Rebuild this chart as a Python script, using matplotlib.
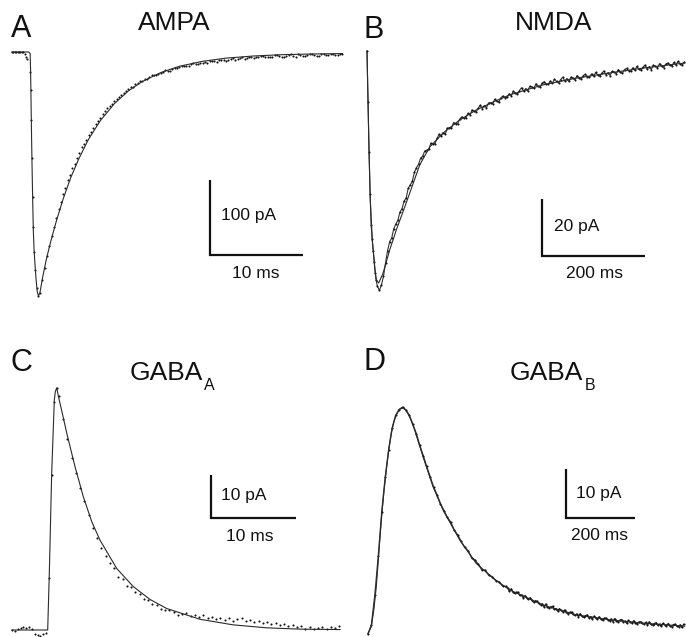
import numpy as np
import matplotlib.pyplot as plt

FIG_W, FIG_H = 686, 637
INK = "#111111"
FIT = "#2a2a2a"
FONT = "Liberation Sans"

# ---------------- AMPA (ms, pA) ----------------
ampa_fit_t = [0, 1.8, 1.95, 2.0, 2.04, 2.1, 2.15, 2.22, 2.29, 2.38, 2.47, 2.6,
              2.72, 2.85, 3.0, 3.3, 3.7, 4.2, 4.8, 5.5, 6.3, 7.2, 8.2, 9.5, 11,
              12.5, 14, 16, 18, 20.5, 23, 26, 29, 32, 35.6]
ampa_fit_i = [0, 0, -2, -25, -60, -110, -148, -195, -237, -265, -283, -305,
              -320, -325, -321, -300, -276, -251, -224, -196, -168, -142, -117,
              -91.5, -69, -52, -39.5, -27.4, -19, -12.4, -8.2, -5.3, -3.6, -2.7,
              -2.1]
ampa_pre_t = [0, 0.15, 0.3, 0.45, 0.6, 0.75, 0.9, 1.05, 1.2, 1.35, 1.5, 1.65,
              1.97, 2.0, 2.03, 2.13, 2.22, 2.28, 2.34, 2.47, 2.66, 2.83]
ampa_pre_i = [0, 0, 0.5, 0, -0.5, 0, 0, -0.5, 0, -3, -6, -9,
              -27, -51, -91, -141, -193, -233, -267, -291, -315, -325]
# decay samples, two interleaved sweeps of 0.5 ms spacing
ampa_decay_start, ampa_decay_step = 3.0, 0.5
ampa_decay_i = [-321, -288, -259, -233, -210, -190, -171, -155, -141, -127,
                -117, -106, -96, -88, -78, -72, -65, -60, -54, -49, -46, -41,
                -38, -36, -31, -31, -28, -24, -25, -21, -20, -18, -19, -15,
                -16, -14, -15, -12, -13, -11, -12, -9, -10, -8, -9, -6, -8, -7,
                -5, -7, -6, -4, -6, -5, -3, -6, -4, -5, -2, -4, -5, -3, -4, -2,
                -4, -3]
ampa_decay2_start = 3.25
ampa_decay2_i = [-304, -272, -246, -222, -200, -181, -164, -149, -134, -122,
                 -111, -101, -92, -83, -75, -69, -62, -57, -52, -46, -43, -39,
                 -36, -33, -30, -29, -27, -25, -22, -21, -19, -18, -16, -16,
                 -15, -13, -12, -12, -11, -10, -10, -8, -9, -7, -8, -6, -7, -5,
                 -6, -6, -4, -5, -6, -4, -5, -3, -5, -4, -3, -5, -3, -4, -2,
                 -4, -3]

# ---------------- NMDA (ms, pA) ----------------
nmda_fit_t = [0, 1.9, 3.9, 6.4, 10.3, 15, 18, 22.7, 31.1, 44.1, 56.9, 69.9,
              82.9, 102.3, 121.7, 147.6, 180, 212, 244.7, 277, 341.7, 406.4,
              471, 536, 617]
nmda_fit_i = [0, -17.2, -34.7, -52.3, -66.3, -75.8, -80.4, -81.4, -78.0, -69.8,
              -62.8, -56.4, -49.9, -40.0, -33.7, -28.8, -24.2, -20.7, -17.9,
              -15.4, -11.9, -9.5, -7.7, -6.0, -4.2]
nmda_pre_t = [0, 2, 4, 6, 8, 10, 12, 14, 16, 18, 20]
nmda_pre_i = [0, -18, -35.5, -50, -61, -66, -70, -74, -78, -80.5, -82.5]
nmda_decay_start, nmda_decay_step = 24, 4
nmda_decay_i = [
    -84.0, -82.1, -79.1, -74.3, -70.0, -66.9, -65.6, -62.4, -60.7, -59.4,
    -56.5, -55.3, -52.7, -51.6, -48.2, -47.0, -45.7, -42.6, -40.9, -39.8,
    -37.6, -36.9, -35.1, -34.8, -34.5, -32.4, -32.6, -32.5, -30.7, -29.2,
    -29.9, -28.6, -29.1, -27.1, -26.9, -27.1, -25.1, -25.6, -25.5, -23.9,
    -23.1, -23.6, -23.4, -21.9, -22.4, -20.7, -21.2, -21.4, -20.0, -19.0,
    -20.2, -19.2, -19.9, -18.2, -18.2, -18.6, -16.9, -17.7, -17.9, -16.4,
    -15.8, -16.4, -16.3, -15.0, -15.7, -14.1, -14.8, -15.2, -13.9, -12.9,
    -14.1, -13.2, -14.0, -12.4, -12.6, -13.1, -11.5, -12.4, -12.7, -11.3,
    -10.8, -11.6, -11.7, -10.5, -11.3, -9.9, -10.7, -11.2, -10.0, -9.2,
    -10.5, -9.7, -10.7, -9.2, -9.5, -10.1, -8.6, -9.6, -9.9, -8.6,
    -8.2, -9.0, -9.2, -8.0, -8.9, -7.5, -8.4, -8.9, -7.8, -7.0,
    -8.4, -7.6, -8.6, -7.1, -7.4, -8.0, -6.5, -7.5, -7.8, -6.5,
    -6.1, -6.9, -7.1, -5.9, -6.8, -5.4, -6.3, -6.8, -5.7, -4.9,
    -6.3, -5.5, -6.5, -5.0, -5.3, -5.9, -4.4, -5.4, -5.8, -4.6,
    -4.2, -5.0, -5.2, -4.0, -4.9, -3.6, -4.5, -5.0, -3.9]

# ---------------- GABA-A (ms, pA) ----------------
gabaa_fit_t = [0, 4.2, 4.4, 4.67, 4.98, 5.1, 5.26, 5.5, 5.85, 6.44, 7.41, 8.39,
               9.38, 10.35, 12.32, 14.27, 16.24, 18.2, 22.1, 26.0, 30.0, 33.9,
               38.6]
gabaa_fit_i = [0, 0, 14, 36.5, 53.5, 55.5, 56.3, 54.0, 51.0, 45.8, 38.0, 31.0,
               25.2, 20.9, 14.3, 10.1, 7.1, 5.0, 2.5, 1.2, 0.5, 0.2, 0.1]
gabaa_pre_t = [0, 0.33, 0.66, 1.0, 1.33, 1.66, 2.0, 2.33, 2.66, 3.0, 3.33,
               3.66, 4.0, 4.39, 4.67, 4.94, 5.26]
gabaa_pre_i = [0.0, -0.2, 0.2, 0.4, 0.6, 0.5, 0.7, 0.3, -0.9, -1.2, -1.4,
               -1.0, -0.8, 12, 36, 53, 56.3]
gabaa_decay_start, gabaa_decay_step = 5.5, 0.5
gabaa_decay_i = [54.5, 49, 44.5, 40, 36.5, 33, 30, 26.8, 23.8, 21.5, 19, 17.2,
                 15.6, 14.5, 12.4, 11.8, 10.3, 10.0, 8.8, 8.4, 7.2, 7.0, 6.0,
                 5.9, 5.0, 4.6, 4.7, 4.1, 3.4, 3.7, 3.9, 3.3, 3.6, 3.0, 3.4,
                 2.8, 3.1, 2.5, 2.9, 2.3, 2.8, 2.0, 2.5, 2.7, 2.1, 2.4, 1.8,
                 2.2, 1.6, 1.9, 1.4, 1.7, 1.1, 1.5, 0.9, 1.2, 0.6, 0.9, 0.3,
                 0.6, 0.2, 0.5, 0.8, 0.3, 0.6, 0.4, 0.9]

# ---------------- GABA-B (ms, pA) ----------------
gabab_fit_t = [0, 9.6, 17, 24.1, 31, 38.6, 46, 53.0, 60, 67.5, 74.5, 82.0,
               90.5, 99.4, 107, 115.9, 125, 135.4, 159.4, 188.4, 217.4, 265.8,
               313.9, 362.3, 410.7, 507.2, 603.8, 700.6, 797.1, 918]
gabab_fit_i = [0.1, 1.5, 5.0, 9.7, 16.2, 23.3, 29.0, 33.5, 37.6, 41.0, 43.2,
               44.7, 45.8, 46.1, 45.9, 45.0, 43.6, 41.6, 36.2, 30.1, 25.3, 19.2,
               14.4, 11.4, 9.0, 5.9, 3.9, 2.9, 2.2, 1.6]
gabab_head_start, gabab_head_step = 0, 10
gabab_head_i = [0.0, 1.9, 8.0, 16.0, 25.0, 32.0, 37.6, 42.0, 44.6, 45.8, 46.3,
                45.7, 44.6, 42.8, 40.9, 38.5, 36.4, 34.2, 32.1, 30.0, 28.4,
                26.6, 25.2, 23.8, 22.8, 21.2, 20.2, 18.9, 17.7, 17.0, 15.6,
                15.1, 14.2, 13.1, 13.0, 12.0, 11.7, 10.9, 10.6, 9.8, 9.7]
gabab_tail_start, gabab_tail_step = 405, 5
gabab_tail_i = [
    9.40, 8.70, 9.21, 8.60, 8.29, 8.48, 8.52, 7.86, 7.95, 7.39,
    7.83, 7.42, 7.06, 7.40, 6.84, 6.48, 6.77, 6.71, 6.25, 5.93,
    6.17, 5.54, 6.09, 5.54, 5.28, 5.53, 5.63, 5.02, 5.17, 4.67,
    5.16, 4.81, 4.50, 4.90, 4.40, 4.09, 4.44, 4.44, 4.03, 3.78,
    4.09, 3.54, 4.13, 3.63, 3.43, 3.73, 3.88, 3.33, 3.52, 3.07,
    3.62, 3.32, 3.07, 3.52, 3.06, 2.81, 3.21, 3.26, 2.91, 2.71,
    3.07, 2.53, 3.15, 2.66, 2.48, 2.79, 2.95, 2.42, 2.63, 2.19,
    2.76, 2.47, 2.24, 2.70, 2.26, 2.03, 2.44, 2.50, 2.17, 1.98,
    2.36, 1.83, 2.46, 1.98, 1.81, 2.13, 2.31, 1.78, 2.01, 1.58,
    2.16, 1.89, 1.66, 2.14, 1.71, 1.49, 1.91, 1.99, 1.66, 1.49,
    1.86, 1.34, 1.96]


def sweep(start, step, values):
    return start + step * np.arange(len(values))


def panel(fig, box, x0, px_per_ms, y0, px_per_pa):
    # box in pixels (left, top, right, bottom); (x0, y0) is the pixel of t=0, I=0
    left, top, right, bottom = box
    ax = fig.add_axes([left / FIG_W, 1 - bottom / FIG_H,
                       (right - left) / FIG_W, (bottom - top) / FIG_H])
    ax.set_xlim((left - x0) / px_per_ms, (right - x0) / px_per_ms)
    ax.set_ylim((y0 - bottom) / px_per_pa, (y0 - top) / px_per_pa)
    ax.axis("off")
    return ax


def trace(ax, fit_t, fit_i, dot_t, dot_i, band=0.0):
    # band > 0 joins the samples into a ragged line, as for the long recordings
    if band:
        ax.plot(dot_t, dot_i, color="#333333", lw=band, zorder=2)
    ax.plot(dot_t, dot_i, ls="none", marker="o", ms=1.5, mew=0,
            color=INK, zorder=3)
    ax.plot(fit_t, fit_i, color=FIT, lw=0.8, zorder=4)


def scale_bar(ax, t0, i0, dt, di):
    ax.plot([t0, t0, t0 + dt], [i0 + di, i0, i0], color=INK, lw=1.6,
            solid_capstyle="butt", solid_joinstyle="miter")


def text(fig, x, y, s, size, ha="left"):
    return fig.text(x / FIG_W, 1 - y / FIG_H, s, fontsize=size, ha=ha,
                    va="baseline", family=FONT, color=INK)


def build():
    fig = plt.figure(figsize=(FIG_W / 100, FIG_H / 100), dpi=100)
    fig.patch.set_facecolor("white")

    # A: AMPA
    ax = panel(fig, (0, 0, 343, 318), 12, 9.3, 52, 0.75)
    dot_t = np.r_[ampa_pre_t,
                  sweep(ampa_decay_start, ampa_decay_step, ampa_decay_i),
                  sweep(ampa_decay2_start, ampa_decay_step, ampa_decay2_i)]
    dot_i = np.r_[ampa_pre_i, ampa_decay_i, ampa_decay2_i]
    trace(ax, ampa_fit_t, ampa_fit_i, dot_t, dot_i)
    scale_bar(ax, 21.3, -270.7, 10, 100)

    # B: NMDA
    ax = panel(fig, (343, 0, 686, 318), 367, 0.515, 51, 2.85)
    dot_t = np.r_[nmda_pre_t,
                  sweep(nmda_decay_start, nmda_decay_step, nmda_decay_i)]
    trace(ax, nmda_fit_t, nmda_fit_i, dot_t, np.r_[nmda_pre_i, nmda_decay_i],
          band=0.8)
    scale_bar(ax, 339.8, -71.9, 200, 20)

    # C: GABA-A
    ax = panel(fig, (0, 318, 343, 637), 12, 8.5, 630, 4.3)
    dot_t = np.r_[gabaa_pre_t,
                  sweep(gabaa_decay_start, gabaa_decay_step, gabaa_decay_i)]
    trace(ax, gabaa_fit_t, gabaa_fit_i, dot_t, np.r_[gabaa_pre_i, gabaa_decay_i])
    scale_bar(ax, 23.4, 26.1, 10, 10)

    # D: GABA-B
    ax = panel(fig, (343, 318, 686, 637), 368, 0.345, 634, 4.9)
    dot_t = np.r_[sweep(gabab_head_start, gabab_head_step, gabab_head_i),
                  sweep(gabab_tail_start, gabab_tail_step, gabab_tail_i)]
    trace(ax, gabab_fit_t, gabab_fit_i, dot_t, np.r_[gabab_head_i, gabab_tail_i],
          band=1.0)
    scale_bar(ax, 573, 23.6, 200, 10)

    # panel letters and titles
    text(fig, 11, 37, "A", 22)
    text(fig, 364, 38, "B", 22)
    text(fig, 11, 371, "C", 22)
    text(fig, 364, 370, "D", 22)
    text(fig, 174.5, 30, "AMPA", 19, ha="center")
    text(fig, 553.5, 30, "NMDA", 19, ha="center")
    text(fig, 130, 380, "GABA", 19)
    text(fig, 204, 390, "A", 11.5)
    text(fig, 510, 380, "GABA", 19)
    text(fig, 585, 390, "B", 11.5)

    # scale bar labels
    text(fig, 221, 220, "100 pA", 12.5)
    text(fig, 232, 278, "10 ms", 12.5)
    text(fig, 554, 231, "20 pA", 12.5)
    text(fig, 566, 278, "200 ms", 12.5)
    text(fig, 221, 500, "10 pA", 12.5)
    text(fig, 226, 541, "10 ms", 12.5)
    text(fig, 576, 498, "10 pA", 12.5)
    text(fig, 571, 540, "200 ms", 12.5)

    fig.savefig("out.png", dpi=100)
    plt.close(fig)


if __name__ == "__main__":
    build()
